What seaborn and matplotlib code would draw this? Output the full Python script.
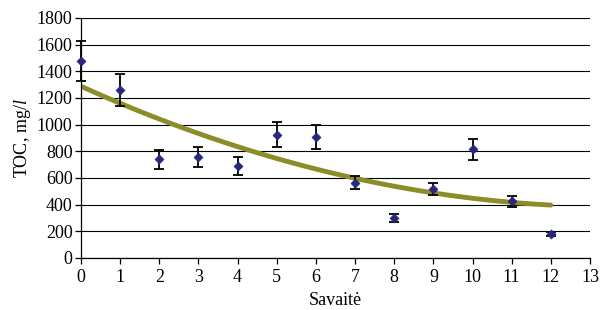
import numpy as np
import pandas as pd
import matplotlib
matplotlib.use("Agg")
import matplotlib.pyplot as plt
import seaborn as sns

weeks = [0, 1, 2, 3, 4, 5, 6, 7, 8, 9, 10, 11, 12]
toc = [1475, 1260, 740, 760, 690, 925, 905, 565, 300, 515, 815, 425, 180]
err = [150, 120, 70, 75, 70, 95, 90, 50, 30, 45, 80, 40, 15]
xticks = list(range(0, 14))
yticks = list(range(0, 2000, 200))

sns.set_theme(style="white")
plt.rcParams['font.family'] = ['Liberation Serif', 'DejaVu Serif']
plt.rcParams['mathtext.fontset'] = 'custom'
plt.rcParams['mathtext.it'] = 'Liberation Serif:italic'
plt.rcParams['mathtext.rm'] = 'Liberation Serif'

df = pd.DataFrame({"week": weeks, "toc": toc, "err": err})

fig = plt.figure(figsize=(6.07, 3.10), dpi=100)
ax = fig.add_axes([0.1334, 0.168, 0.8386, 0.774])

eb = ax.errorbar(df["week"], df["toc"], yerr=df["err"], fmt="none", ecolor="black",
                 elinewidth=1.3, capsize=3.5, capthick=1.3, zorder=3)
for artist in eb.lines[1] + eb.lines[2]:
    artist.set_clip_on(False)
sns.regplot(data=df, x="week", y="toc", order=2, ci=None, scatter=False,
            line_kws={"color": "#8C8C28", "lw": 3.5, "zorder": 2}, ax=ax, truncate=True)
sns.scatterplot(data=df, x="week", y="toc", marker="D", s=22, color="#28287A",
                edgecolor="#28287A", ax=ax, zorder=4, clip_on=False)

ax.set_xlim(0, 13)
ax.set_ylim(0, 1800)
ax.set_xticks(xticks)
ax.set_yticks(yticks)
ax.yaxis.grid(True, color="black", lw=0.8)
ax.xaxis.grid(False)
for s in ["top", "right"]:
    ax.spines[s].set_visible(False)
for s in ["left", "bottom"]:
    ax.spines[s].set_color("black")
    ax.spines[s].set_linewidth(0.9)
ax.tick_params(axis="both", direction="out", length=4, width=0.9, color="black",
               labelsize=13, labelcolor="black", pad=2)
ax.tick_params(axis="x", bottom=True, pad=4)
ax.tick_params(axis="y", left=True)
ax.set_xlabel("Savaitė", fontsize=13, color="black", labelpad=4)
ax.set_ylabel("TOC, mg/$\\it{l}$", fontsize=13, color="black", labelpad=3)
ax.set_axisbelow(True)

fig.savefig("out.png", dpi=100)
